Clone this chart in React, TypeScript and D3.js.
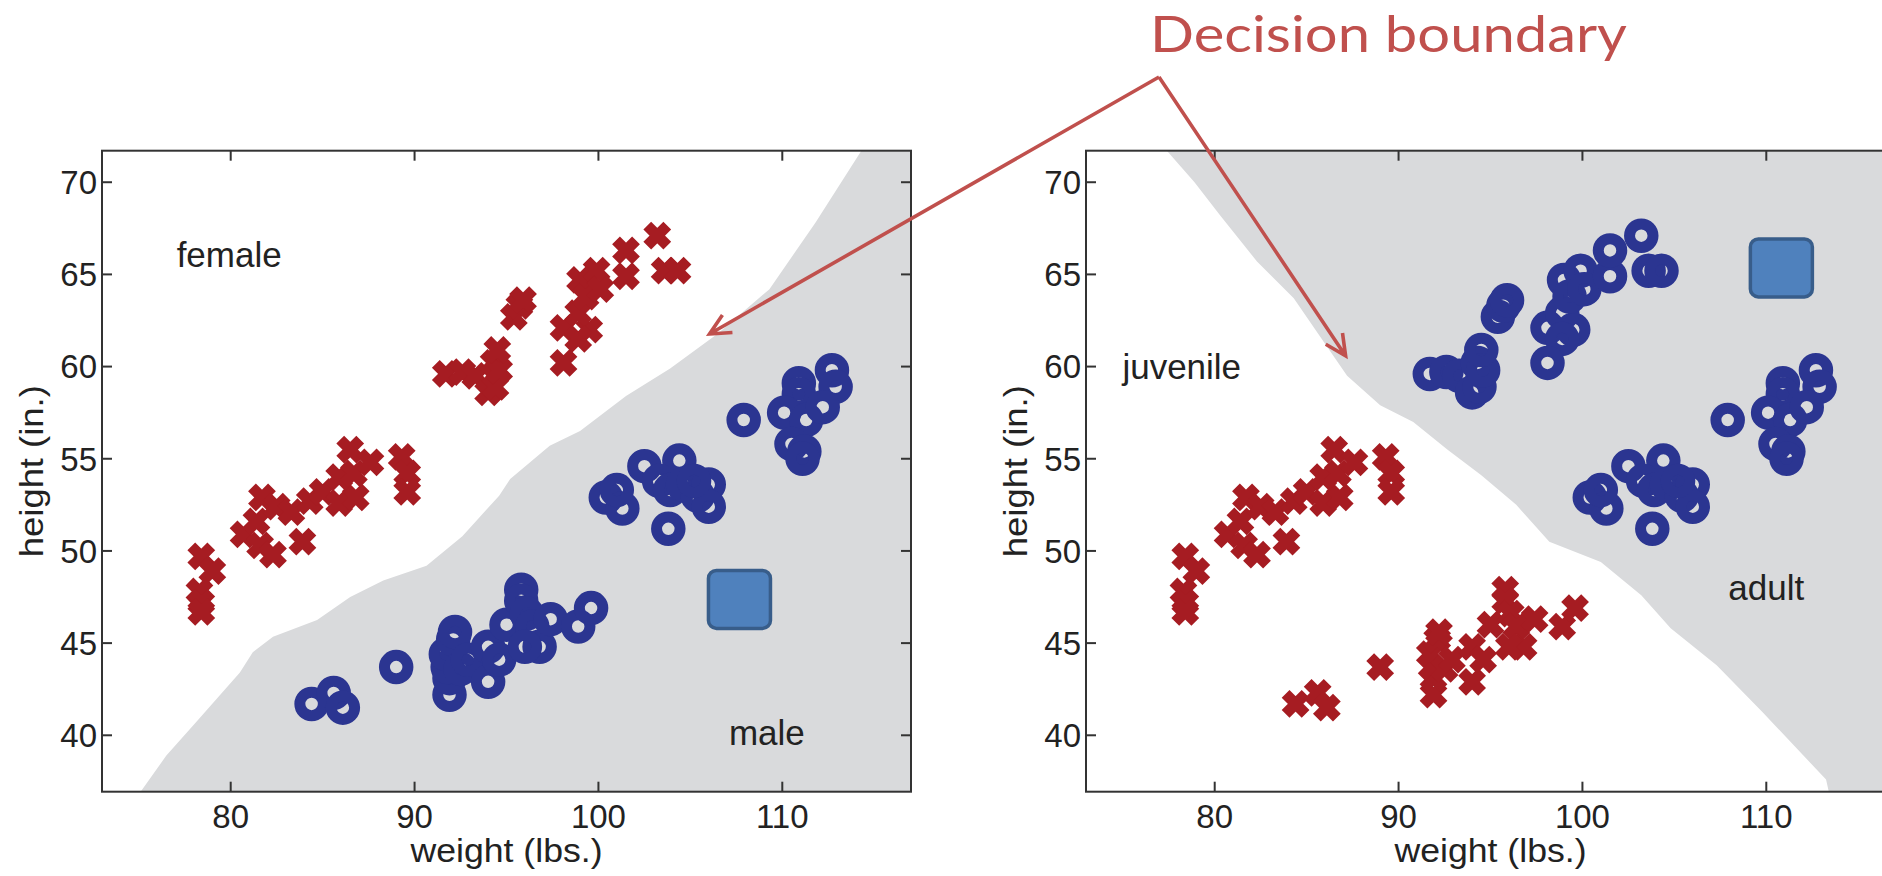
import React from 'react';
import * as d3 from 'd3';

type Pt = [number, number];

// ---- axis ticks / domains ----
const weightTicks = [80, 90, 100, 110];
const heightTicks = [40, 45, 50, 55, 60, 65, 70];
const weightDomain: Pt = [73, 117];
const heightDomain: Pt = [36.94, 71.71];

// ---- data: [weight (lbs.), height (in.)] ----
const juvenileFemale: Pt[] = [
  [78.4, 49.7], [79.0, 48.9], [78.3, 47.8], [78.4, 47.2], [78.4, 46.7],
  [80.7, 50.9], [81.6, 50.3], [82.3, 49.8], [81.4, 51.6], [81.7, 52.9],
  [82.5, 52.4], [83.3, 52.1], [83.9, 50.5], [84.3, 52.7], [85.0, 53.2],
  [85.9, 52.6], [86.8, 52.9], [85.9, 54.0], [86.7, 54.2], [86.5, 55.5],
  [87.6, 54.8], [89.3, 55.1], [89.6, 54.2], [89.6, 53.2],
];
const adultFemale: Pt[] = [
  [91.7, 59.6], [92.6, 59.7], [93.3, 59.5], [94.0, 58.6], [94.4, 58.9],
  [94.3, 60.2], [94.6, 59.8], [94.5, 60.9], [95.4, 62.7], [95.7, 63.3],
  [95.9, 63.6], [98.1, 62.1], [99.5, 62.0], [98.9, 62.9], [98.9, 61.5],
  [98.1, 60.2], [99.0, 64.7], [99.9, 65.2], [99.3, 63.8], [100.1, 64.2],
  [101.5, 64.9], [101.5, 66.3], [103.2, 67.1], [103.6, 65.2], [104.3, 65.2],
];
const juvenileMale: Pt[] = [
  [84.4, 41.7], [85.6, 42.3], [86.1, 41.5], [89.0, 43.7], [91.9, 42.2],
  [91.9, 43.1], [91.8, 43.7], [91.7, 44.4], [92.1, 45.2], [92.2, 45.6],
  [92.5, 43.6], [92.9, 44.1], [94.0, 42.9], [94.0, 44.8], [94.6, 44.1],
  [95.0, 46.0], [95.8, 47.9], [95.8, 47.3], [96.1, 46.6], [96.4, 45.9],
  [96.8, 44.8], [96.0, 44.8], [97.4, 46.3], [98.9, 45.9], [99.6, 46.9],
];
const adultMale: Pt[] = [
  [100.4, 52.9], [101.3, 52.3], [101.0, 53.3], [102.5, 54.6], [104.4, 54.9],
  [103.8, 51.2], [103.3, 53.8], [103.9, 53.3], [104.6, 53.6], [105.4, 53.0],
  [106.0, 53.6], [106.0, 52.4], [105.2, 53.8],
  [107.9, 57.1], [110.9, 59.1], [110.9, 58.5], [112.7, 59.8], [112.9, 58.9],
  [110.1, 57.5], [111.3, 57.1], [112.2, 57.8], [110.5, 55.8], [111.2, 55.4],
  [111.1, 55.0],
];

// decision boundaries (weight, height)
const sexBoundary: Pt[] = [
  [75.1, 36.94], [76.5, 38.9], [78.1, 40.7], [80.5, 43.4], [81.2, 44.5],
  [82.3, 45.35], [84.7, 46.25], [86.5, 47.5], [88.3, 48.4], [90.65, 49.2],
  [92.6, 50.8], [94.6, 53.0], [95.2, 53.9], [97.35, 55.7], [99.0, 56.5],
  [101.5, 58.4], [103.9, 59.9], [106.5, 61.8], [109.3, 64.2], [111.8, 67.8],
  [114.3, 71.71],
];
const ageBoundary: Pt[] = [
  [77.4, 71.71], [78.9, 70.0], [80.3, 68.2], [82.3, 65.7], [84.3, 63.7],
  [86.3, 60.8], [87.2, 59.5], [89.0, 57.9], [90.8, 57.0], [92.65, 55.5],
  [94.5, 54.1], [96.4, 52.5], [98.2, 50.5], [101.0, 49.4], [103.2, 47.6],
  [104.8, 45.8], [107.3, 43.8], [109.8, 41.25], [113.25, 37.6], [113.4, 36.94],
];

// ---- layout ----
const W = 1882;
const H = 876;
const PLOT_TOP = 150.7;
const PLOT_BOTTOM = 791.7;
const PLOT_W = 809;
const FONT = '"Liberation Sans", Arial, Helvetica, sans-serif';
const RED = '#A61C22';
const BLUE = '#2B3591';
const GRAY = '#D9DADC';
const AXIS = '#333333';
const ANNOT = '#C0504D';

const panels = [
  {
    id: 'sex',
    left: 102,
    boundary: sexBoundary,
    crosses: [...juvenileFemale, ...adultFemale],
    rings: [...juvenileMale, ...adultMale],
    labels: [
      { text: 'female', at: [77.06, 65.39] as Pt },
      { text: 'male', at: [107.1, 39.47] as Pt },
    ],
    square: [107.67, 47.37] as Pt,
    arrowTip: [106.04, 61.77] as Pt,
  },
  {
    id: 'age',
    left: 1086,
    boundary: ageBoundary,
    crosses: [...juvenileFemale, ...juvenileMale],
    rings: [...adultFemale, ...adultMale],
    labels: [
      { text: 'juvenile', at: [74.98, 59.31] as Pt },
      { text: 'adult', at: [107.93, 47.34] as Pt },
    ],
    square: [110.82, 65.35] as Pt,
    arrowTip: [87.12, 60.58] as Pt,
  },
];

const APEX: Pt = [1159, 77];

function scalesFor(left: number) {
  const x = d3.scaleLinear().domain(weightDomain).range([left, left + PLOT_W]);
  const y = d3.scaleLinear().domain(heightDomain).range([PLOT_BOTTOM, PLOT_TOP]);
  return { x, y };
}

function Panel({ p }: { p: (typeof panels)[number] }) {
  const { x, y } = scalesFor(p.left);
  const b = p.boundary;
  const region: Pt[] = [
    ...b,
    [weightDomain[1], b[b.length - 1][1]],
    [weightDomain[1], b[0][1]],
  ];
  const poly = d3
    .line<Pt>()
    .x((d) => x(d[0]))
    .y((d) => y(d[1]))
    .curve(d3.curveLinearClosed)(region) as string;
  const clipId = `clip-${p.id}`;
  const arm = 10;
  const crossPath = `M${-arm},${-arm}L${arm},${arm}M${-arm},${arm}L${arm},${-arm}`;
  const tick = 10;
  const x0 = p.left;
  const x1 = p.left + PLOT_W;
  return (
    <g>
      <defs>
        <clipPath id={clipId}>
          <rect x={x0} y={PLOT_TOP} width={PLOT_W} height={PLOT_BOTTOM - PLOT_TOP} />
        </clipPath>
      </defs>
      <g clipPath={`url(#${clipId})`}>
        <path d={poly} fill={GRAY} />
        {p.crosses.map((d, i) => (
          <path
            key={`c${i}`}
            d={crossPath}
            transform={`translate(${x(d[0])},${y(d[1])})`}
            stroke={RED}
            strokeWidth={11}
            fill="none"
          />
        ))}
        {p.rings.map((d, i) => (
          <circle
            key={`r${i}`}
            cx={x(d[0])}
            cy={y(d[1])}
            r={11.75}
            stroke={BLUE}
            strokeWidth={11}
            fill="none"
          />
        ))}
      </g>
      {/* frame */}
      <rect
        x={x0}
        y={PLOT_TOP}
        width={PLOT_W}
        height={PLOT_BOTTOM - PLOT_TOP}
        fill="none"
        stroke={AXIS}
        strokeWidth={2}
      />
      {/* ticks */}
      {weightTicks.map((t) => (
        <g key={`xt${t}`}>
          <line x1={x(t)} x2={x(t)} y1={PLOT_BOTTOM} y2={PLOT_BOTTOM - tick} stroke={AXIS} strokeWidth={2} />
          <line x1={x(t)} x2={x(t)} y1={PLOT_TOP} y2={PLOT_TOP + tick} stroke={AXIS} strokeWidth={2} />
          <text
            x={x(t)}
            y={PLOT_BOTTOM + 36.6}
            textAnchor="middle"
            fontFamily={FONT}
            fontSize={33}
            fill="#222"
          >
            {t}
          </text>
        </g>
      ))}
      {heightTicks.map((t) => (
        <g key={`yt${t}`}>
          <line x1={x0} x2={x0 + tick} y1={y(t)} y2={y(t)} stroke={AXIS} strokeWidth={2} />
          <line x1={x1} x2={x1 - tick} y1={y(t)} y2={y(t)} stroke={AXIS} strokeWidth={2} />
          <text
            x={x0 - 5}
            y={y(t)}
            dy="0.36em"
            textAnchor="end"
            fontFamily={FONT}
            fontSize={33}
            fill="#222"
          >
            {t}
          </text>
        </g>
      ))}
      {/* axis titles */}
      <text
        x={(x0 + x1) / 2}
        y={862}
        textAnchor="middle"
        fontFamily={FONT}
        fontSize={34}
        textLength={192}
        lengthAdjust="spacingAndGlyphs"
        fill="#222"
      >
        weight (lbs.)
      </text>
      <text
        transform={`translate(${x0 - 59},${(PLOT_TOP + PLOT_BOTTOM) / 2}) rotate(-90)`}
        textAnchor="middle"
        fontFamily={FONT}
        fontSize={34}
        textLength={172}
        lengthAdjust="spacingAndGlyphs"
        fill="#222"
      >
        height (in.)
      </text>
      {/* region labels */}
      {p.labels.map((l) => (
        <text key={l.text} x={x(l.at[0])} y={y(l.at[1])} fontFamily={FONT} fontSize={35} fill="#222">
          {l.text}
        </text>
      ))}
      {/* query square */}
      <rect
        x={x(p.square[0]) - 31}
        y={y(p.square[1]) - 29}
        width={62}
        height={58}
        rx={8}
        fill="#4F81BD"
        stroke="#385D8A"
        strokeWidth={3.5}
      />
    </g>
  );
}

function arrowPath(from: Pt, tip: Pt) {
  const ang = Math.atan2(from[1] - tip[1], from[0] - tip[0]);
  const len = 23;
  const spread = (26 * Math.PI) / 180;
  const b1: Pt = [tip[0] + len * Math.cos(ang + spread), tip[1] + len * Math.sin(ang + spread)];
  const b2: Pt = [tip[0] + len * Math.cos(ang - spread), tip[1] + len * Math.sin(ang - spread)];
  return `M${from[0]},${from[1]}L${tip[0]},${tip[1]}M${b1[0]},${b1[1]}L${tip[0]},${tip[1]}L${b2[0]},${b2[1]}`;
}

export default function App() {
  const tips = panels.map((p) => {
    const { x, y } = scalesFor(p.left);
    return [x(p.arrowTip[0]), y(p.arrowTip[1])] as Pt;
  });
  return (
    <svg
      width={W}
      height={H}
      viewBox={`0 0 ${W} ${H}`}
      style={{ position: 'absolute', left: 0, top: 0, background: '#fff' }}
    >
      <rect x={0} y={0} width={W} height={H} fill="#fff" />
      {panels.map((p) => (
        <Panel key={p.id} p={p} />
      ))}
      <text
        x={1150}
        y={52}
        fontFamily="Lato, 'Open Sans', sans-serif"
        fontSize={51}
        fill={ANNOT}
        textLength={477}
        lengthAdjust="spacingAndGlyphs"
      >
        Decision boundary
      </text>
      {tips.map((t, i) => (
        <path
          key={i}
          d={arrowPath(APEX, t)}
          fill="none"
          stroke={ANNOT}
          strokeWidth={3.6}
          strokeLinejoin="miter"
        />
      ))}
    </svg>
  );
}
